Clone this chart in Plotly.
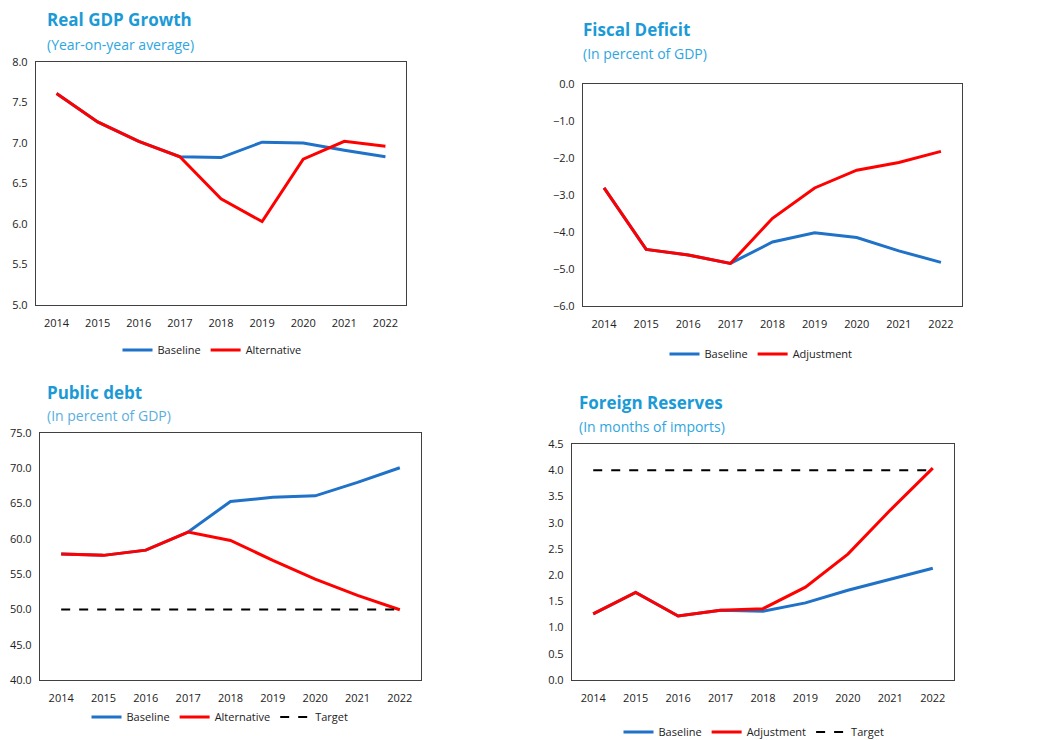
import plotly.graph_objects as go

W, H = 1052, 740

years = ["2014", "2015", "2016", "2017", "2018", "2019", "2020", "2021", "2022"]

gdp_baseline = [7.61, 7.26, 7.02, 6.83, 6.82, 7.01, 7.00, 6.91, 6.83]
gdp_alternative = [7.61, 7.26, 7.02, 6.83, 6.31, 6.03, 6.80, 7.02, 6.96]

fiscal_baseline = [-2.81, -4.47, -4.62, -4.85, -4.27, -4.02, -4.15, -4.51, -4.82]
fiscal_adjustment = [-2.81, -4.47, -4.62, -4.85, -3.63, -2.81, -2.33, -2.12, -1.82]

debt_baseline = [57.85, 57.66, 58.4, 60.97, 65.3, 65.88, 66.1, 68.0, 70.08]
debt_alternative = [57.85, 57.66, 58.4, 60.97, 59.78, 56.95, 54.3, 51.99, 49.96]
debt_target = [50, 50, 50, 50, 50, 50, 50, 50, 50]

res_baseline = [1.26, 1.67, 1.22, 1.33, 1.31, 1.47, 1.71, 1.92, 2.13]
res_adjustment = [1.26, 1.67, 1.22, 1.33, 1.36, 1.77, 2.40, 3.24, 4.04]
res_target = [4.0, 4.0, 4.0, 4.0, 4.0, 4.0, 4.0, 4.0, 4.0]

BLUE = "#1f72c8"
RED = "#ff0000"
TITLE = "#1b9ad6"
SUB = "#2ea6e0"
FONT = "Open Sans"
TICK = "#222222"


def px(x):
    return x / W


def py(y):
    return 1 - y / H


fig = go.Figure()

panels = [
    dict(box=(36, 406, 62, 305), yr=[5.0, 8.0], dt=0.5,
         series=[("Baseline", gdp_baseline, BLUE, "solid"), ("Alternative", gdp_alternative, RED, "solid")],
         leg=(212, 350), title="Real GDP Growth", sub="(Year-on-year average)", txy=(45, 20, 44),
         subcol=SUB),
    dict(box=(583, 962, 84, 306), yr=[-6.0, 0.0], dt=1.0,
         series=[("Baseline", fiscal_baseline, BLUE, "solid"), ("Adjustment", fiscal_adjustment, RED, "solid")],
         leg=(761, 354), title="Fiscal Deficit", sub="(In percent of GDP)", txy=(581, 29, 53),
         subcol=SUB),
    dict(box=(40, 421, 433, 680), yr=[40.0, 75.0], dt=5.0,
         series=[("Baseline", debt_baseline, BLUE, "solid"), ("Alternative", debt_alternative, RED, "solid"),
                 ("Target", debt_target, "#000000", "dash")],
         leg=(220, 717), title="Public debt", sub="(In percent of GDP)", txy=(45, 392, 415),
         subcol="#5aaede"),
    dict(box=(572, 954, 444, 680), yr=[0.0, 4.5], dt=0.5,
         series=[("Baseline", res_baseline, BLUE, "solid"), ("Adjustment", res_adjustment, RED, "solid"),
                 ("Target", res_target, "#000000", "dash")],
         leg=(754, 732), title="Foreign Reserves", sub="(In months of imports)", txy=(577, 402, 426),
         subcol=SUB),
]

annotations = []
for i, p in enumerate(panels, start=1):
    l, r, t, b = p["box"]
    xa = "x" if i == 1 else f"x{i}"
    ya = "y" if i == 1 else f"y{i}"
    lg = "legend" if i == 1 else f"legend{i}"
    for name, vals, col, dash in p["series"]:
        fig.add_trace(go.Scatter(
            x=years, y=vals, name=name, mode="lines",
            line=dict(color=col, width=3 if dash == "solid" else 2, dash=dash),
            xaxis=xa, yaxis=ya, legend=lg, hoverinfo="skip"))
    axis_common = dict(showline=True, mirror=True, linecolor="#404040", linewidth=1.3,
                       showgrid=False, zeroline=False, ticks="", automargin=False,
                       tickfont=dict(family=FONT, size=11, color=TICK))
    fig.update_layout({
        ("xaxis" if i == 1 else f"xaxis{i}"): dict(
            domain=[px(l), px(r)], anchor=ya, type="category", range=[-0.5, 8.5],
            ticklabelstandoff=8, **axis_common),
        ("yaxis" if i == 1 else f"yaxis{i}"): dict(
            domain=[py(b), py(t)], anchor=xa, range=p["yr"], dtick=p["dt"], tick0=p["yr"][0],
            tickformat=".1f", ticklabelstandoff=5, **axis_common),
        lg: dict(orientation="h", x=px(p["leg"][0]), y=py(p["leg"][1]),
                 xanchor="center", yanchor="middle", bgcolor="rgba(0,0,0,0)",
                 font=dict(family=FONT, size=11, color=TICK), itemwidth=30,
                 tracegroupgap=0, traceorder="normal"),
    })
    tx, ty1, ty2 = p["txy"]
    annotations.append(dict(x=px(tx), y=py(ty1), xref="paper", yref="paper", text=f"<b>{p['title']}</b>",
                            showarrow=False, xanchor="left", yanchor="middle",
                            font=dict(family=FONT, size=17, color=TITLE)))
    annotations.append(dict(x=px(tx), y=py(ty2), xref="paper", yref="paper", text=p["sub"],
                            showarrow=False, xanchor="left", yanchor="middle",
                            font=dict(family=FONT, size=14, color=p["subcol"])))

fig.update_layout(width=W, height=H, margin=dict(l=0, r=0, t=0, b=0, pad=0, autoexpand=False),
                  paper_bgcolor="white", plot_bgcolor="white",
                  annotations=annotations, font=dict(family=FONT))

fig.write_html("out.html", config={"displayModeBar": False},
               post_script="document.body.style.margin='0';document.body.style.overflow='hidden';")
